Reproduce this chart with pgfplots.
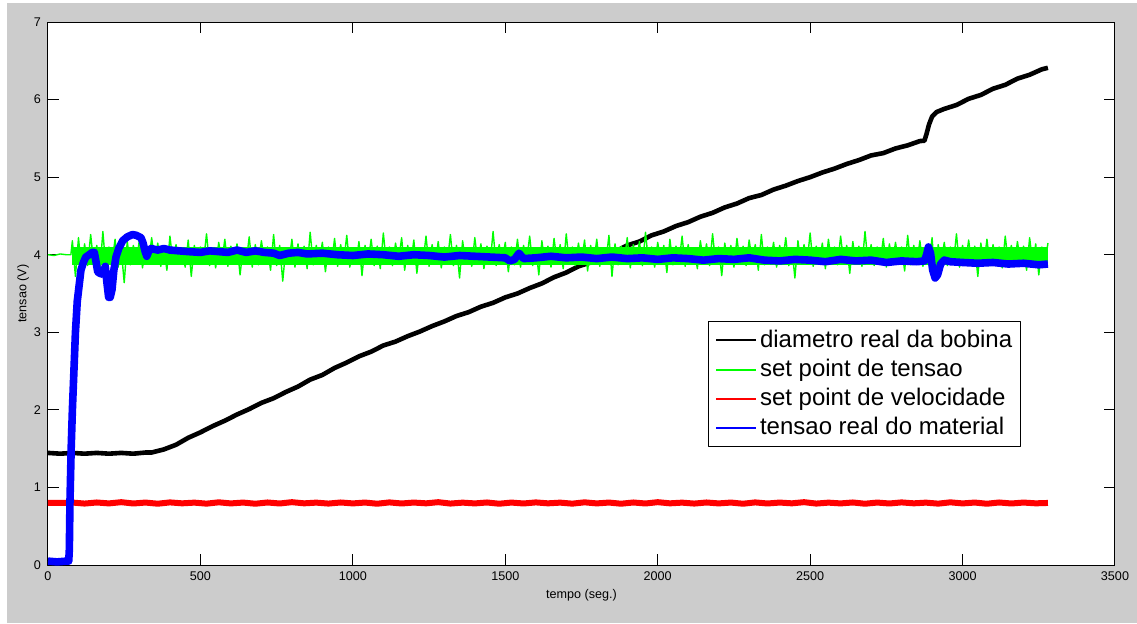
\documentclass[border=0pt]{standalone}
\usepackage{fontspec}
\setmainfont{Liberation Sans}
\usepackage{pgfplots}
\pgfplotsset{compat=1.18}
\definecolor{mgreen}{RGB}{0,255,0}
\definecolor{mred}{RGB}{255,0,0}
\definecolor{mblue}{RGB}{0,0,255}
\definecolor{mgray}{RGB}{204,204,204}
\begin{document}
\begin{tikzpicture}
\fill[white] (0,0) rectangle (568.5pt,311.5pt);
\fill[mgray] (3.5pt,0pt) rectangle (568.5pt,310pt);
\begin{axis}[
 at={(24pt,29pt)}, anchor=south west,
 scale only axis, width=533.5pt, height=271.5pt,
 xmin=0, xmax=3500, ymin=0, ymax=7,
 xtick={0,500,...,3500}, ytick={0,1,...,7},
 tick align=inside, major tick length=5.3pt,
 axis background/.style={fill=white},
 axis line style={line width=0.5pt},
 tick style={black, line width=0.5pt},
 ticklabel style={font=\fontsize{6.3}{7}\selectfont},
 /pgf/number format/assume math mode=true,
 /pgf/number format/1000 sep={},
 xlabel={tempo (seg.)}, ylabel={tensao (V)},
 label style={font=\fontsize{6.3}{7}\selectfont},
 xlabel style={at={(axis description cs:0.5,0)}, anchor=center, yshift=-15pt},
 ylabel style={at={(axis description cs:-0.0234,0.5)}, anchor=center},
 legend cell align=left,
 legend style={at={(0.6186,0.2173)}, anchor=south west, draw, fill=white,
   font=\fontsize{12}{14}\selectfont, inner xsep=3.5pt, inner ysep=2pt, row sep=0pt, column sep=0.6pt,
   nodes={inner sep=0.7pt, text height=10pt, text depth=3.2pt}},
 legend image code/.code={\draw[#1] (0pt,0pt) -- (20pt,0pt);},
 line join=round,
]
% black: diametro real da bobina
\addplot[black, line width=2.3pt, forget plot] table {
x y
0 1.445
40 1.435
80 1.445
120 1.435
160 1.445
200 1.435
240 1.445
280 1.435
320 1.45
340 1.45
380 1.49
420 1.55
460 1.64
500 1.71
540 1.79
580 1.86
620 1.94
660 2.01
700 2.09
740 2.15
780 2.23
820 2.30
860 2.39
900 2.45
940 2.54
980 2.61
1020 2.69
1060 2.75
1100 2.83
1140 2.88
1180 2.95
1220 3.01
1260 3.08
1300 3.14
1340 3.21
1380 3.26
1420 3.33
1460 3.38
1500 3.45
1540 3.50
1580 3.57
1620 3.63
1660 3.71
1700 3.77
1740 3.85
1780 3.90
1820 3.98
1860 4.04
1900 4.12
1940 4.17
1980 4.25
2020 4.30
2060 4.37
2100 4.42
2140 4.49
2180 4.54
2220 4.61
2260 4.66
2300 4.73
2340 4.77
2380 4.84
2420 4.89
2460 4.95
2500 5.00
2540 5.06
2580 5.11
2620 5.17
2660 5.22
2700 5.28
2740 5.31
2780 5.37
2820 5.41
2860 5.465
2875 5.47
2882 5.56
2890 5.68
2900 5.78
2915 5.84
2940 5.88
2980 5.93
3020 6.01
3060 6.06
3100 6.14
3140 6.19
3180 6.27
3220 6.32
3260 6.39
3280 6.41
};
% green: set point de tensao (noise spikes)
\addplot[mgreen, line width=0.7pt, forget plot] table {
x y
0 4.0
20 3.99
40 4.01
60 4.0
75 4.0
80 4.18
90 3.72
100 4.22
110 3.8
120 4.14
130 3.86
140 4.26
150 3.88
160 4.12
170 3.78
180 4.3
190 3.82
200 4.1
210 3.9
220 4.2
230 3.84
240 4.08
250 3.64
260 4.17
270 3.87
280 4.12
290 3.9
300 4.2
310 3.83
320 4.1
330 3.88
340 4.22
350 3.92
360 4.15
370 3.85
380 4.09
390 3.8
400 4.24
410 3.89
420 4.13
430 3.9
440 4.06
450 3.84
460 4.19
470 3.72
480 4.12
490 3.88
500 4.1
510 3.91
520 4.27
530 3.86
540 4.08
550 3.83
560 4.16
570 3.9
580 4.2
590 3.85
600 4.11
610 3.88
620 4.14
630 3.74
640 4.09
650 3.9
660 4.23
670 3.84
680 4.13
690 3.87
700 4.18
710 3.92
720 4.1
730 3.8
740 4.26
750 3.86
760 4.12
770 3.66
780 4.08
790 3.89
800 4.2
810 3.84
820 4.14
830 3.9
840 4.11
850 3.82
860 4.29
870 3.87
880 4.12
890 3.91
900 4.16
910 3.78
920 4.1
930 3.88
940 4.21
950 3.85
960 4.13
970 3.9
980 4.25
990 3.84
1000 4.09
1010 3.88
1020 4.17
1030 3.73
1040 4.12
1050 3.9
1060 4.2
1070 3.86
1080 4.11
1090 3.82
1100 4.28
1110 3.89
1120 4.1
1130 3.86
1140 4.15
1150 3.92
1160 4.22
1170 3.8
1180 4.12
1190 3.88
1200 4.19
1210 3.76
1220 4.09
1230 3.9
1240 4.24
1250 3.85
1260 4.13
1270 3.88
1280 4.17
1290 3.83
1300 4.1
1310 3.91
1320 4.26
1330 3.86
1340 4.12
1350 3.7
1360 4.18
1370 3.89
1380 4.09
1390 3.85
1400 4.22
1410 3.9
1420 4.14
1430 3.82
1440 4.11
1450 3.88
1460 4.3
1470 3.86
1480 4.13
1490 3.9
1500 4.16
1510 3.78
1520 4.1
1530 3.87
1540 4.2
1550 3.84
1560 4.12
1570 3.91
1580 4.24
1590 3.86
1600 4.09
1610 3.74
1620 4.18
1630 3.89
1640 4.11
1650 3.84
1660 4.21
1670 3.9
1680 4.13
1690 3.82
1700 4.27
1710 3.88
1720 4.1
1730 3.86
1740 4.15
1750 3.9
1760 4.19
1770 3.79
1780 4.12
1790 3.88
1800 4.2
1810 3.85
1820 4.09
1830 3.91
1840 4.25
1850 3.72
1860 4.14
1870 3.87
1880 4.11
1890 3.9
1900 4.22
1910 3.83
1920 4.13
1930 3.88
1940 4.17
1950 3.86
1960 4.29
1970 3.89
1980 4.1
1990 3.84
2000 4.16
2010 3.9
2020 4.12
2030 3.77
2040 4.2
2050 3.87
2060 4.11
2070 3.9
2080 4.24
2090 3.85
2100 4.13
2110 3.88
2120 4.09
2130 3.82
2140 4.18
2150 3.9
2160 4.14
2170 3.86
2180 4.27
2190 3.89
2200 4.1
2210 3.73
2220 4.15
2230 3.88
2240 4.12
2250 3.84
2260 4.21
2270 3.9
2280 4.11
2290 3.86
2300 4.19
2310 3.91
2320 4.13
2330 3.8
2340 4.26
2350 3.87
2360 4.1
2370 3.89
2380 4.16
2390 3.84
2400 4.12
2410 3.9
2420 4.22
2430 3.86
2440 4.09
2450 3.7
2460 4.18
2470 3.88
2480 4.13
2490 3.9
2500 4.28
2510 3.85
2520 4.11
2530 3.88
2540 4.15
2550 3.82
2560 4.2
2570 3.89
2580 4.1
2590 3.87
2600 4.24
2610 3.9
2620 4.12
2630 3.76
2640 4.17
2650 3.88
2660 4.11
2670 3.85
2680 4.3
2690 3.89
2700 4.13
2710 3.86
2720 4.1
2730 3.91
2740 4.21
2750 3.84
2760 4.14
2770 3.88
2780 4.16
2790 3.9
2800 4.1
2810 3.79
2820 4.25
2830 3.87
2840 4.12
2850 3.89
2860 4.18
2870 3.85
2880 4.11
2890 3.88
2900 4.22
2910 3.68
2920 4.13
2930 3.9
2940 4.16
2950 3.86
2960 4.1
2970 3.89
2980 4.27
2990 3.84
3000 4.12
3010 3.9
3020 4.19
3030 3.87
3040 4.11
3050 3.72
3060 4.15
3070 3.88
3080 4.2
3090 3.86
3100 4.13
3110 3.9
3120 4.1
3130 3.83
3140 4.24
3150 3.89
3160 4.12
3170 3.86
3180 4.17
3190 3.9
3200 4.11
3210 3.8
3220 4.22
3230 3.88
3240 4.14
3250 3.74
3260 4.1
3270 3.87
3280 4.15
};
% green: dense core of the noise band
\addplot[mgreen, line width=9pt, forget plot] table {
x y
80 3.99
3280 3.99
};
% red: set point de velocidade
\addplot[mred, line width=3pt, forget plot] table {
x y
0 0.80
40 0.80
75 0.80
80 0.805
120 0.792
160 0.806
200 0.794
240 0.81
280 0.793
320 0.805
360 0.79
400 0.807
440 0.795
480 0.804
520 0.791
560 0.808
600 0.794
640 0.805
680 0.79
720 0.806
760 0.793
800 0.81
840 0.795
880 0.804
920 0.792
960 0.806
1000 0.794
1040 0.805
1080 0.79
1120 0.807
1160 0.793
1200 0.805
1240 0.795
1280 0.81
1320 0.792
1360 0.804
1400 0.794
1440 0.806
1480 0.79
1520 0.805
1560 0.793
1600 0.807
1640 0.795
1680 0.804
1720 0.791
1760 0.808
1800 0.794
1840 0.805
1880 0.79
1920 0.806
1960 0.793
2000 0.81
2040 0.795
2080 0.804
2120 0.792
2160 0.806
2200 0.794
2240 0.805
2280 0.79
2320 0.807
2360 0.793
2400 0.805
2440 0.795
2480 0.81
2520 0.792
2560 0.804
2600 0.794
2640 0.806
2680 0.79
2720 0.805
2760 0.793
2800 0.807
2840 0.795
2880 0.804
2920 0.791
2960 0.808
3000 0.794
3040 0.805
3080 0.79
3120 0.806
3160 0.793
3200 0.805
3240 0.795
3280 0.80
};
% blue: tensao real do material
\addplot[mblue, line width=3.8pt, forget plot] table {
x y
0 0.05
30 0.04
60 0.05
68 0.05
70 0.2
72 0.8
76 1.5
80 2.0
84 2.4
90 3.0
96 3.4
102 3.6
108 3.8
116 3.9
124 3.97
135 4.0
145 4.03
152 4.03
158 3.9
163 3.78
170 3.76
179 3.75
185 3.82
188 3.85
193 3.65
199 3.45
204 3.45
210 3.55
216 3.8
223 3.97
232 4.08
245 4.18
260 4.23
277 4.26
290 4.25
305 4.22
312 4.15
318 4.05
324 3.98
330 4.04
338 4.08
360 4.06
380 4.08
400 4.06
430 4.05
460 4.04
500 4.03
530 4.05
560 4.04
590 4.03
620 4.06
650 4.03
680 4.05
710 4.03
740 4.02
760 3.99
790 4.02
820 4.03
850 4.01
900 4.02
950 4.0
1000 3.99
1050 4.01
1100 4.0
1150 3.98
1200 4.0
1250 3.99
1300 3.97
1350 3.99
1400 3.98
1450 3.97
1500 3.96
1515 3.92
1530 3.94
1545 4.02
1560 3.95
1600 3.96
1650 3.98
1700 3.96
1750 3.97
1800 3.95
1850 3.97
1900 3.95
1950 3.96
2000 3.94
2050 3.96
2100 3.95
2150 3.93
2200 3.95
2250 3.94
2300 3.96
2350 3.93
2400 3.92
2450 3.94
2500 3.93
2550 3.91
2600 3.94
2650 3.92
2700 3.93
2750 3.9
2800 3.92
2850 3.91
2875 3.92
2882 4.0
2888 4.1
2895 4.02
2902 3.8
2910 3.7
2918 3.74
2928 3.88
2940 3.93
2960 3.91
3000 3.9
3050 3.89
3100 3.9
3150 3.88
3200 3.89
3250 3.87
3280 3.88
};
\addlegendimage{color=black, line width=1pt}
\addlegendentry{diametro real da bobina}
\addlegendimage{color=mgreen, line width=1pt}
\addlegendentry{set point de tensao}
\addlegendimage{color=mred, line width=1pt}
\addlegendentry{set point de velocidade}
\addlegendimage{color=mblue, line width=1pt}
\addlegendentry{tensao real do material}
\end{axis}
\end{tikzpicture}
\end{document}
